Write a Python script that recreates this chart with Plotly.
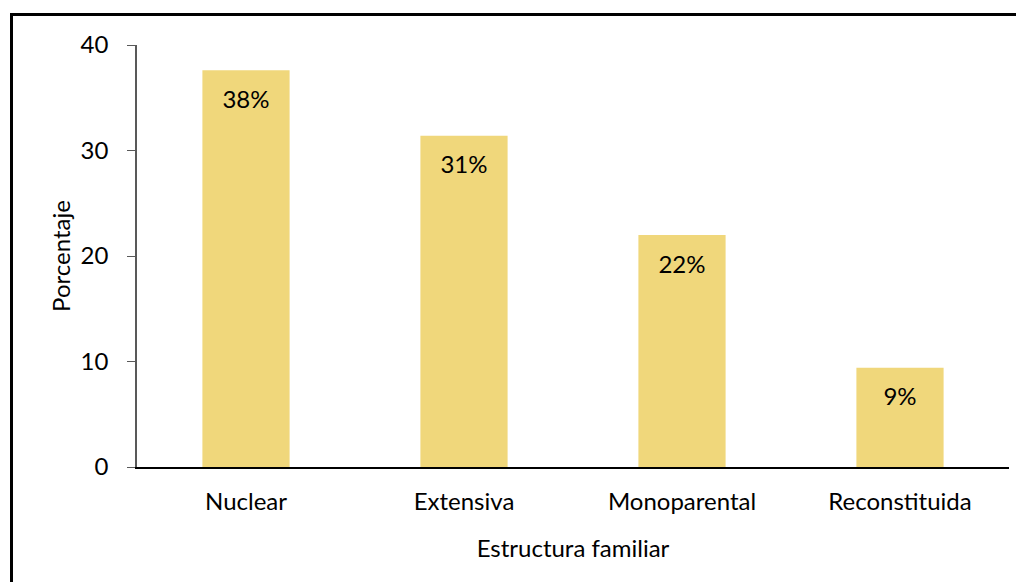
import plotly.graph_objects as go

categories = ["Nuclear", "Extensiva", "Monoparental", "Reconstituida"]
values = [37.6, 31.4, 22.0, 9.4]
labels = ["38%", "31%", "22%", "9%"]
y_ticks = [0, 10, 20, 30, 40]

FONT = "Lato, Carlito, Calibri, sans-serif"
BAR = "#F0D77B"
FS = 24

fig = go.Figure()
fig.add_trace(go.Bar(x=categories, y=values, marker=dict(color=BAR, line=dict(width=0)),
                     hoverinfo="skip", showlegend=False))
fig.add_trace(go.Scatter(x=categories, y=[v - 3 for v in values], text=labels, mode="text",
                         textfont=dict(family=FONT, size=FS, color="#000000"),
                         showlegend=False, hoverinfo="skip"))

# page is rendered with an 8px body offset
OFF = 8
W, H = 1024, 582
L, T = 137 - OFF, 45 - OFF
R = W - (1009 - OFF)
B = H - (467 - OFF)
pw, ph = W - L - R, H - T - B

def px(x):
    return (x - OFF - L) / pw

def py(y):
    return (H - B - (y - OFF)) / ph

fig.update_layout(
    width=W, height=H,
    margin=dict(l=L, r=R, t=T, b=B),
    paper_bgcolor="white", plot_bgcolor="white",
    bargap=0.6,
    font=dict(family=FONT, size=FS, color="#000000"),
    xaxis=dict(showline=True, linecolor="#000000", linewidth=1.5, ticks="",
               showgrid=False, tickfont=dict(size=FS), ticklabelstandoff=12,
               title=dict(text="Estructura familiar", font=dict(size=FS), standoff=27)),
    yaxis=dict(range=[0, 40], tickvals=y_ticks, showline=True, linecolor="#595959", linewidth=1.5,
               ticks="outside", ticklen=8, tickcolor="#595959", showgrid=False, zeroline=False,
               tickfont=dict(size=FS), ticklabelstandoff=14,
               title=dict(text="Porcentaje", font=dict(size=FS), standoff=3)),
    shapes=[dict(type="rect", xref="paper", yref="paper",
                 x0=px(11.5), y0=py(14.5), x1=px(1040), y1=py(600),
                 line=dict(color="#000000", width=3), fillcolor="rgba(0,0,0,0)", layer="above")],
)

fig.write_html("out.html")
